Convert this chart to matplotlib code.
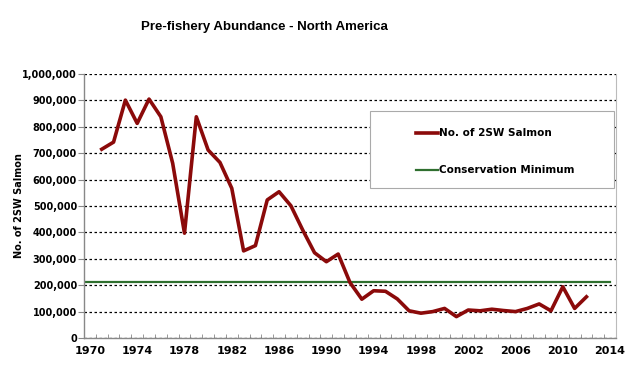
import matplotlib
matplotlib.use("Agg")
import matplotlib.pyplot as plt
from matplotlib.patches import Rectangle
from matplotlib.lines import Line2D
from matplotlib.ticker import FuncFormatter, FixedLocator

years = list(range(1971, 2013))
salmon = [715000, 742000, 901000, 813000, 905000, 838000, 662000, 397000, 838000, 712000,
          665000, 567000, 330000, 350000, 523000, 554000, 501000, 409000, 323000, 289000,
          318000, 210000, 147000, 179000, 177000, 148000, 103000, 94000, 100000, 112000,
          81000, 106000, 103000, 109000, 104000, 100000, 112000, 129000, 103000, 194000,
          112000, 156000]
conservation_min = 213000
x_ticks = list(range(1970, 2015, 4))
y_ticks = list(range(0, 1000001, 100000))

RED = "#8B0A0A"
GREEN = "#2F6F2F"

fig = plt.figure(figsize=(6.4, 3.8), dpi=100)
ax = fig.add_axes([84/640, 1-338/380, (616-84)/640, (338-74)/380])

ax.plot(years, salmon, color=RED, lw=2.6, solid_joinstyle="round", zorder=3)
ax.plot([1969.5, 2014.0], [conservation_min, conservation_min], color=GREEN, lw=1.6, zorder=2)

ax.set_xlim(1969.5, 2014.5)
ax.set_ylim(0, 1000000)
ax.set_xticks(x_ticks)
ax.xaxis.set_minor_locator(FixedLocator([y + 0.5 for y in range(1969, 2015)]))
ax.set_yticks(y_ticks)
ax.yaxis.set_major_formatter(FuncFormatter(lambda v, p: f"{int(v):,}"))

ax.tick_params(axis="x", which="major", length=0, pad=6, labelsize=8)
ax.tick_params(axis="x", which="minor", length=3, direction="in", color="#888888")
ax.tick_params(axis="y", which="major", length=4, direction="out", color="#888888",
               labelsize=7, pad=1)
for lab in ax.get_xticklabels() + ax.get_yticklabels():
    lab.set_fontweight("bold")

ax.grid(axis="y", color="black", linestyle=(0, (2, 2)), linewidth=0.9)
ax.set_axisbelow(True)
for s in ["left", "bottom"]:
    ax.spines[s].set_color("#888888")
    ax.spines[s].set_linewidth(1)
ax.spines["right"].set_color("#bbbbbb")
ax.spines["right"].set_linewidth(0.8)
ax.spines["top"].set_visible(False)

fig.text(19/640, 1-206/380, "No. of 2SW Salmon", rotation=90, ha="center", va="center",
         fontsize=7, fontweight="bold")
fig.text(264/640, 1-27/380, "Pre-fishery Abundance - North America", ha="center", va="center",
         fontsize=9.5, fontweight="bold", family="Liberation Sans")

# legend box
fig.patches.append(Rectangle((370/640, 1-188/380), (614-370)/640, (188-111)/380,
                             transform=fig.transFigure, facecolor="white",
                             edgecolor="#aaaaaa", lw=0.8, zorder=5))
handles = [Line2D([], [], color=RED, lw=2.6), Line2D([], [], color=GREEN, lw=1.6)]
leg = fig.legend(handles, ["No. of 2SW Salmon", "Conservation Minimum"],
                 loc="upper left", bbox_to_anchor=(407/640, 1-119/380), frameon=False,
                 handlelength=2.1, handletextpad=0.05, labelspacing=2.6,
                 prop={"weight": "bold", "size": 7.5})
leg.set_zorder(6)

fig.savefig("out.png", dpi=100)
